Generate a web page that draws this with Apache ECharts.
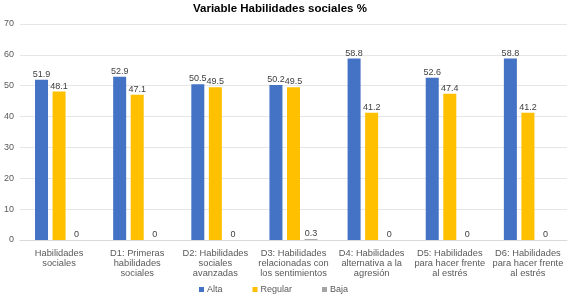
<!DOCTYPE html>
<html>
<head>
<meta charset="utf-8">
<script src="https://cdn.jsdelivr.net/npm/echarts@6/dist/echarts.min.js"></script>
<style>
  html, body { margin: 0; padding: 0; background: #fff; }
  #chart { width: 570px; height: 296px; }
</style>
</head>
<body>
<div id="chart"></div>
<script>
// categorias del eje x
var categories = [
  'Habilidades\nsociales',
  'D1: Primeras\nhabilidades\nsociales',
  'D2: Habilidades\nsociales\navanzadas',
  'D3: Habilidades\nrelacionadas con\nlos sentimientos',
  'D4: Habilidades\nalternativa a la\nagresión',
  'D5: Habilidades\npara hacer frente\nal estrés',
  'D6: Habilidades\npara hacer frente\nal estrés'
];
var alta = [51.9, 52.9, 50.5, 50.2, 58.8, 52.6, 58.8];
var regular = [48.1, 47.1, 49.5, 49.5, 41.2, 47.4, 41.2];
var baja = [0, 0, 0, 0.3, 0, 0, 0];
var yTicks = [0, 10, 20, 30, 40, 50, 60, 70];

var labelStyle = {
  show: true,
  position: 'top',
  distance: 1,
  fontSize: 9,
  color: '#404040',
  fontFamily: 'Liberation Sans'
};

function serie(name, data, color) {
  return {
    name: name,
    type: 'bar',
    data: data,
    barWidth: 13,
    barGap: '35%',
    itemStyle: { color: color },
    label: labelStyle
  };
}

var option = {
  animation: false,
  textStyle: { fontFamily: 'Liberation Sans' },
  title: {
    text: 'Variable Habilidades sociales %',
    left: 188,
    top: -2,
    textStyle: { fontSize: 11.5, fontWeight: 'bold', color: '#000' }
  },
  legend: {
    bottom: -3,
    left: 194,
    itemWidth: 5,
    itemHeight: 5,
    itemGap: 30,
    icon: 'rect',
    textStyle: { fontSize: 9, color: '#595959', padding: [0, 0, 0, -2] },
    data: ['Alta', 'Regular', 'Baja']
  },
  grid: { left: 20, right: 3, top: 24, bottom: 56 },
  xAxis: {
    type: 'category',
    data: categories,
    axisTick: { show: false },
    axisLine: { lineStyle: { color: '#d9d9d9' } },
    axisLabel: { fontSize: 9.3, color: '#595959', lineHeight: 10, interval: 0, margin: 8 }
  },
  yAxis: {
    type: 'value',
    min: yTicks[0],
    max: yTicks[yTicks.length - 1],
    interval: 10,
    axisLabel: { fontSize: 9, color: '#595959', margin: 6 },
    splitLine: { lineStyle: { color: '#e6e6e6' } }
  },
  series: [
    serie('Alta', alta, '#4472C4'),
    serie('Regular', regular, '#FFC000'),
    serie('Baja', baja, '#A5A5A5')
  ]
};

var myChart = echarts.init(document.getElementById('chart'));
myChart.setOption(option);
</script>
</body>
</html>
